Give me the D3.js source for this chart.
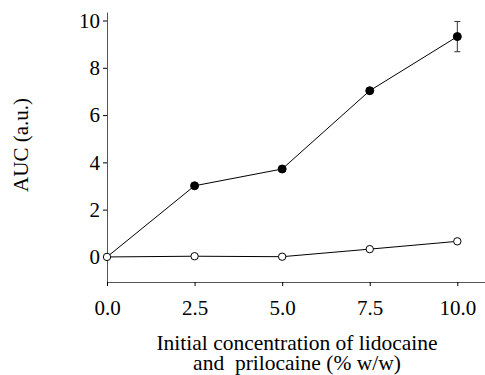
<!DOCTYPE html>
<html>
<head>
<meta charset="utf-8">
<script src="https://cdn.jsdelivr.net/npm/d3@7"></script>
<style>
  html, body { margin: 0; padding: 0; background: #fff; }
  svg { display: block; }
  svg text { font-family: "Liberation Serif", "DejaVu Serif", serif; fill: #000; }
</style>
</head>
<body>
<svg id="chart" width="485" height="375"></svg>
<script>
// Initial concentration (% w/w)
const concentrations = [0, 2.5, 5.0, 7.5, 10.0];
// AUC values for the two formulations
const filledSeries = [0, 3.01, 3.72, 7.03, 9.32];
const filledError  = [0, 0, 0, 0, 0.64];
const openSeries   = [0, 0.03, 0.01, 0.33, 0.66];
const xTicks = [0, 2.5, 5.0, 7.5, 10.0];
const yTicks = [0, 2, 4, 6, 8, 10];

const svg = d3.select("#chart");

const x = d3.scaleLinear().domain([0, 10.79]).range([107, 485]);
const y = d3.scaleLinear().domain([-1.06, 10.36]).range([282, 12]);

const axisColor = "#555";
const fontSize = "21px";

// Y axis
const yAxis = svg.append("g")
  .attr("transform", `translate(${x(0)},0)`)
  .call(d3.axisLeft(y).tickValues(yTicks).tickFormat(d3.format("d")).tickSize(4).tickSizeOuter(0).tickPadding(3));
yAxis.attr("font-family", null);
yAxis.select(".domain").attr("stroke", axisColor);
yAxis.selectAll(".tick line").attr("stroke", "#000");
yAxis.selectAll(".tick text").style("font-size", fontSize);

// X axis
const xAxis = svg.append("g")
  .attr("transform", `translate(0,${y(-1.06)})`)
  .call(d3.axisBottom(x).tickValues(xTicks).tickFormat(d3.format(".1f")).tickSize(4).tickSizeOuter(0).tickPadding(0));
xAxis.attr("font-family", null);
xAxis.select(".domain").attr("stroke", axisColor);
xAxis.selectAll(".tick line").attr("stroke", "#000");
xAxis.selectAll(".tick text").style("font-size", fontSize).attr("y", 33).attr("dy", null);

// Axis titles
svg.append("text")
  .attr("transform", `translate(28,145) rotate(-90)`)
  .attr("text-anchor", "middle")
  .style("font-size", fontSize)
  .text("AUC (a.u.)");

svg.append("text")
  .attr("x", 297).attr("y", 350)
  .attr("text-anchor", "middle")
  .style("font-size", "21.5px")
  .text("Initial concentration of lidocaine");
svg.append("text")
  .attr("x", 297).attr("y", 370)
  .attr("text-anchor", "middle")
  .style("font-size", "21.5px")
  .style("white-space", "pre")
  .text("and  prilocaine (% w/w)");

const line = d3.line().x(d => x(d[0])).y(d => y(d[1]));

const filled = concentrations.map((c, i) => [c, filledSeries[i], filledError[i]]);
const open = concentrations.map((c, i) => [c, openSeries[i]]);

// Error bars
const eb = svg.append("g").attr("stroke", "#333").attr("stroke-width", 1);
filled.filter(d => d[2] > 0).forEach(d => {
  const cx = x(d[0]);
  eb.append("line").attr("x1", cx).attr("x2", cx).attr("y1", y(d[1] - d[2])).attr("y2", y(d[1] + d[2]));
  eb.append("line").attr("x1", cx - 3).attr("x2", cx + 3).attr("y1", y(d[1] + d[2])).attr("y2", y(d[1] + d[2]));
  eb.append("line").attr("x1", cx - 3).attr("x2", cx + 3).attr("y1", y(d[1] - d[2])).attr("y2", y(d[1] - d[2]));
});

svg.append("path").datum(open).attr("d", line)
  .attr("fill", "none").attr("stroke", "#000").attr("stroke-width", 1);
svg.append("path").datum(filled).attr("d", line)
  .attr("fill", "none").attr("stroke", "#000").attr("stroke-width", 1);

// Markers: filled series (first point shares the open marker at the origin)
svg.append("g").selectAll("circle").data(filled.slice(1)).join("circle")
  .attr("cx", d => x(d[0])).attr("cy", d => y(d[1])).attr("r", 4)
  .attr("fill", "#000").attr("stroke", "#000");

svg.append("g").selectAll("circle").data(open).join("circle")
  .attr("cx", d => x(d[0])).attr("cy", d => y(d[1])).attr("r", 3.7)
  .attr("fill", "#fff").attr("stroke", "#000").attr("stroke-width", 1);
</script>
</body>
</html>
